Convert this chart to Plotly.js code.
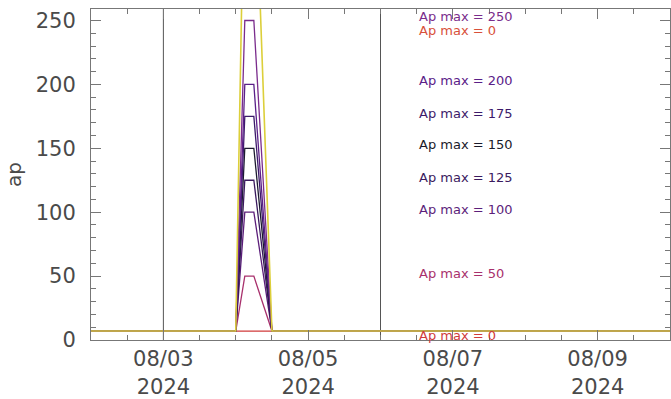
<!DOCTYPE html>
<html>
<head>
<meta charset="utf-8">
<script src="https://cdn.plot.ly/plotly-3.0.1.min.js"></script>
<style>html,body{margin:0;padding:0;background:#fff;}#chart{width:671px;height:399px;}</style>
</head>
<body>
<div id="chart"></div>
<script>
// time stamps of the 3-hourly ap samples (shared by all series)
const times = ['2024-08-02 00:00', '2024-08-04 00:00', '2024-08-04 03:00', '2024-08-04 06:00', '2024-08-04 12:00', '2024-08-10 00:00'];

// ap series, one per "Ap max" scenario
const ap0   = [7, 7, 7, 7, 7, 7];
const ap50  = [7, 7, 50, 50, 7, 7];
const ap100 = [7, 7, 100, 100, 7, 7];
const ap125 = [7, 7, 125, 125, 7, 7];
const ap150 = [7, 7, 150, 150, 7, 7];
const ap175 = [7, 7, 175, 175, 7, 7];
const ap200 = [7, 7, 200, 200, 7, 7];
const ap250 = [7, 7, 250, 250, 7, 7];
const ap400 = [7, 7, 400, 400, 7, 7];

const seriesList = [ap0, ap50, ap100, ap125, ap150, ap175, ap200, ap250, ap400];
const seriesColors = ['#d03a3a', '#a8306c', '#5c1e7a', '#3a1a5e', '#1c1a30', '#3c1a6a', '#5a2088', '#7a2c8c', '#dccf3a'];

// labels
const labelTexts = ['Ap max = 250', 'Ap max = 0', 'Ap max = 200', 'Ap max = 175', 'Ap max = 150', 'Ap max = 125', 'Ap max = 100', 'Ap max = 50', 'Ap max = 0'];
const labelY = [253.5, 241.8, 203.4, 177.6, 152.6, 127.5, 102.5, 52.4, 3.9];
const labelColors = ['#7a2c8c', '#d8503a', '#5a2088', '#3c1a6a', '#1a1a2a', '#3a1a5e', '#5c1e7a', '#a8306c', '#d03a3a'];
const labelX = '2024-08-06 12:00';

// axes
const xTickVals = ['2024-08-03', '2024-08-05', '2024-08-07', '2024-08-09'];
const xTickText = ['08/03<br>2024', '08/05<br>2024', '08/07<br>2024', '08/09<br>2024'];
const xRange = ['2024-08-02 00:00', '2024-08-10 00:00'];
const yRange = [0, 259];
const markerDates = ['2024-08-03 00:00', '2024-08-06 00:00'];

const traces = seriesList.map((s, i) => ({
  x: times, y: s, type: 'scatter', mode: 'lines',
  line: {color: seriesColors[i], width: (i === seriesList.length - 1) ? 1.6 : 1.3},
  hoverinfo: 'skip', showlegend: false
}));

const annotations = labelTexts.map((t, i) => ({
  x: labelX, y: labelY[i], xref: 'x', yref: 'y', text: t, showarrow: false,
  xanchor: 'left', yanchor: 'middle',
  font: {family: 'DejaVu Sans', size: 13, color: labelColors[i]}
}));

const shapes = markerDates.map(d => ({
  type: 'line', xref: 'x', yref: 'paper', x0: d, x1: d, y0: 0, y1: 1,
  line: {color: '#555', width: 1}, layer: 'below'
}));

const axisCommon = {
  showgrid: false, zeroline: false, showline: true, linecolor: '#777', linewidth: 1,
  mirror: 'allticks', ticks: 'inside', tickcolor: '#777', ticklen: 10, tickwidth: 1,
  tickfont: {family: 'DejaVu Sans', size: 21, color: '#4a4a4a'}
};

const layout = {
  width: 671, height: 399,
  margin: {l: 91, r: 1, t: 9, b: 59},
  paper_bgcolor: '#fff', plot_bgcolor: '#fff',
  xaxis: Object.assign({}, axisCommon, {
    type: 'date', range: xRange, tickmode: 'array', tickvals: xTickVals, ticktext: xTickText,
    minor: {dtick: 43200000, tick0: '2024-08-02', ticks: 'inside', ticklen: 5, tickcolor: '#777', showgrid: false}
  }),
  yaxis: Object.assign({}, axisCommon, {
    range: yRange, tickmode: 'linear', tick0: 0, dtick: 50, ticklabelstandoff: 10,
    minor: {dtick: 10, ticks: 'inside', ticklen: 5, tickcolor: '#777', showgrid: false},
    title: {text: 'ap', font: {family: 'DejaVu Sans', size: 20, color: '#4a4a4a'}, standoff: 8}
  }),
  annotations: annotations,
  shapes: shapes,
  showlegend: false
};

Plotly.newPlot('chart', traces, layout, {displayModeBar: false, staticPlot: true});
</script>
</body>
</html>
